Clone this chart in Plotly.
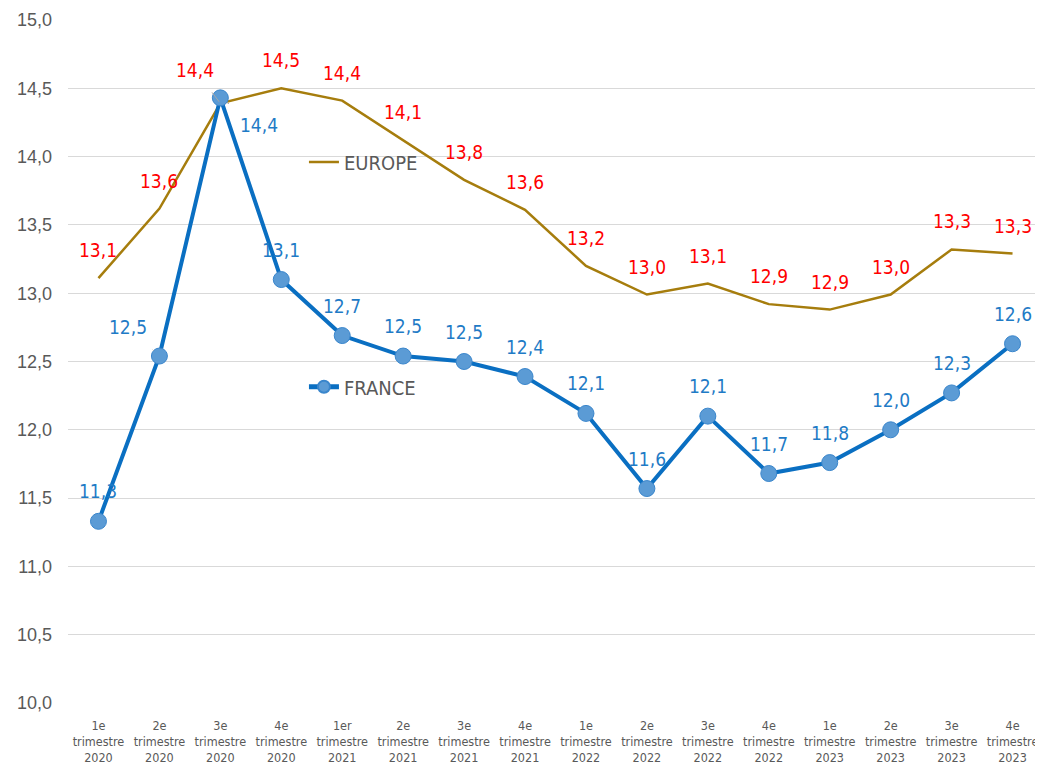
import plotly.graph_objects as go

quarters = ["1e", "2e", "3e", "4e", "1er", "2e", "3e", "4e",
            "1e", "2e", "3e", "4e", "1e", "2e", "3e", "4e"]
years = ["2020"] * 4 + ["2021"] * 4 + ["2022"] * 4 + ["2023"] * 4
categories = [f"{q}<br>trimestre<br>{y}" for q, y in zip(quarters, years)]

europe = [13.11, 13.62, 14.39, 14.50, 14.41, 14.12, 13.83, 13.61,
          13.20, 12.99, 13.07, 12.92, 12.88, 12.99, 13.32, 13.29]
france = [11.33, 12.54, 14.43, 13.10, 12.69, 12.54, 12.50, 12.39,
          12.12, 11.57, 12.10, 11.68, 11.76, 12.00, 12.27, 12.63]

y_ticks = [10.0, 10.5, 11.0, 11.5, 12.0, 12.5, 13.0, 13.5, 14.0, 14.5, 15.0]

EU_COLOR = "#A67D0D"
FR_LINE = "#0A6FC2"
FR_MARK = "#5B9BD5"
RED = "#FF0000"
BLUE = "#1F7BC6"
NARROW = "DejaVu Sans Condensed, Liberation Sans Narrow, Arial Narrow, sans-serif"

def fmt(v):
    return f"{v:.1f}".replace(".", ",")

fig = go.Figure()
fig.add_trace(go.Scatter(x=categories, y=europe, mode="lines", name="EUROPE",
                         line=dict(color=EU_COLOR, width=2.5), legend="legend"))
fig.add_trace(go.Scatter(x=categories, y=france, mode="lines+markers", name="FRANCE",
                         line=dict(color=FR_LINE, width=4),
                         marker=dict(size=16, color=FR_MARK, line=dict(color="#3A86CC", width=1)),
                         legend="legend2"))

# label offsets (px) for special labels with leader lines
eu_special = {2: (-25, -33)}
fr_special = {1: (-31, -29), 2: (39, 27)}

LBL = 19
annotations = []
for i, (c, v) in enumerate(zip(categories, europe)):
    if i in eu_special:
        ax, ay = eu_special[i]
        annotations.append(dict(x=c, y=v, text=fmt(v), showarrow=True, arrowhead=0,
                                arrowcolor="#A6A6A6", arrowwidth=1, ax=ax, ay=ay,
                                standoff=2, startstandoff=12,
                                font=dict(family=NARROW, size=LBL, color=RED)))
    else:
        annotations.append(dict(x=c, y=v, text=fmt(v), showarrow=False, yshift=28,
                                font=dict(family=NARROW, size=LBL, color=RED)))
for i, (c, v) in enumerate(zip(categories, france)):
    if i in fr_special:
        ax, ay = fr_special[i]
        annotations.append(dict(x=c, y=v, text=fmt(v), showarrow=True, arrowhead=0,
                                arrowcolor="#A6A6A6", arrowwidth=1, ax=ax, ay=ay,
                                standoff=8, startstandoff=15,
                                font=dict(family=NARROW, size=LBL, color=BLUE)))
    else:
        annotations.append(dict(x=c, y=v, text=fmt(v), showarrow=False, yshift=30,
                                font=dict(family=NARROW, size=LBL, color=BLUE)))

fig.update_layout(
    width=1043, height=768,
    margin=dict(l=60, r=8, t=12, b=73, autoexpand=False),
    paper_bgcolor="white", plot_bgcolor="white",
    separators=", ",
    showlegend=True,
    legend=dict(x=0.242, y=0.792, xanchor="left", yanchor="middle",
                bgcolor="rgba(0,0,0,0)",
                font=dict(family=NARROW, size=20, color="#595959")),
    legend2=dict(x=0.242, y=0.463, xanchor="left", yanchor="middle",
                 bgcolor="rgba(0,0,0,0)", itemsizing="constant",
                 font=dict(family=NARROW, size=20, color="#595959")),
    xaxis=dict(showgrid=False, showline=False, ticks="", automargin=False,
               range=[-0.5, 15.5],
               tickfont=dict(family=NARROW, size=12.5, color="#595959"),
               tickangle=0, ticklabelstandoff=13),
    yaxis=dict(range=[10, 15], tickvals=y_ticks, automargin=False,
               ticktext=[fmt(t) for t in y_ticks],
               showgrid=True, gridcolor="#D9D9D9", gridwidth=1,
               zeroline=False, showline=False, ticks="",
               tickfont=dict(family="Liberation Sans, Arial, sans-serif", size=18, color="#595959"),
               ticklabelstandoff=15),
    annotations=annotations,
)

fig.write_html("out.html")
